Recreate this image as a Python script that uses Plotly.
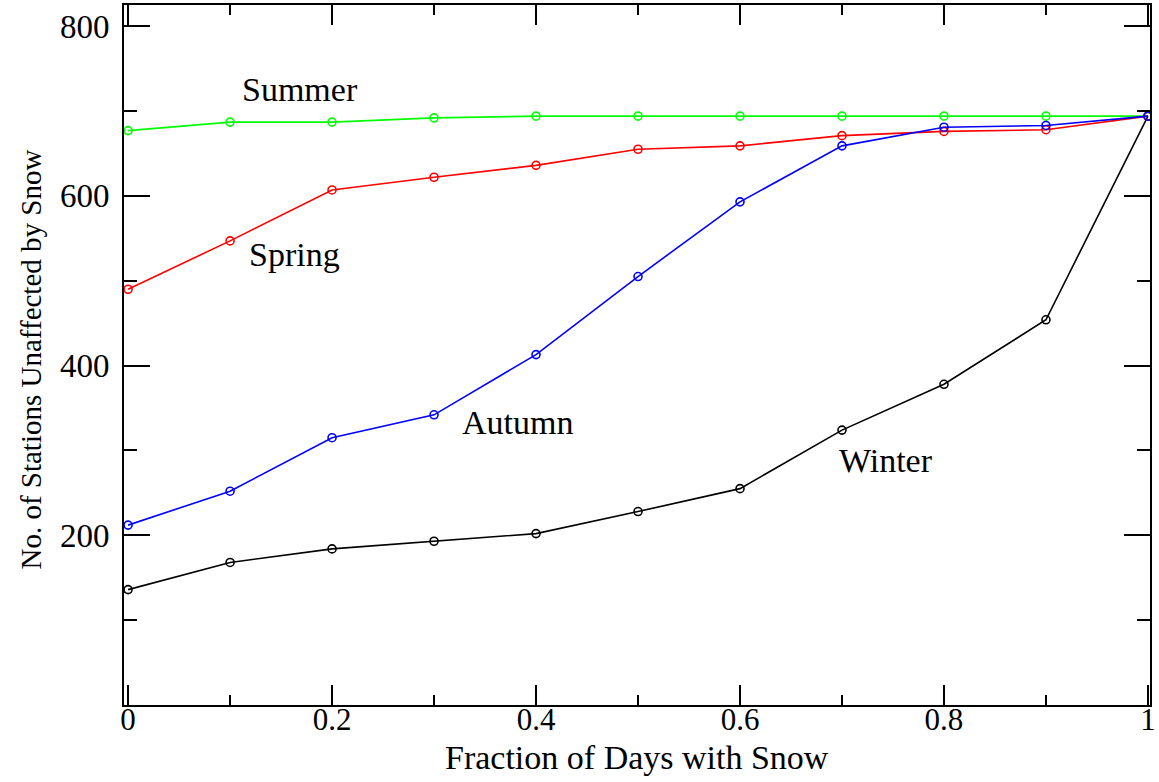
import plotly.graph_objects as go

# Fraction of days with snow (x) and number of stations unaffected (y), per season
fraction = [0.0, 0.1, 0.2, 0.3, 0.4, 0.5, 0.6, 0.7, 0.8, 0.9, 1.0]
summer = [677, 687, 687, 692, 694, 694, 694, 694, 694, 694, 694]
spring = [490, 547, 607, 622, 636, 655, 659, 671, 676, 678, 694]
autumn = [212, 252, 315, 342, 413, 505, 593, 659, 681, 683, 694]
winter = [136, 168, 184, 193, 202, 228, 255, 324, 378, 454, 694]

x_ticks = [0, 0.2, 0.4, 0.6, 0.8, 1.0]
x_tick_text = ["0", "0.2", "0.4", "0.6", "0.8", "1"]
x_minor = [0.1, 0.3, 0.5, 0.7, 0.9]
y_ticks = [200, 400, 600, 800]
y_minor = [100, 300, 500, 700]

series = [
    ("Winter", winter, "#000000"),
    ("Summer", summer, "#00ff00"),
    ("Spring", spring, "#ff0000"),
    ("Autumn", autumn, "#0000ff"),
]

# label anchor positions in data coordinates
labels = [
    ("Summer", 0.169, 725),
    ("Spring", 0.163, 531),
    ("Autumn", 0.382, 333),
    ("Winter", 0.743, 288),
]

FONT = "Liberation Serif"

fig = go.Figure()
for name, vals, color in series:
    fig.add_trace(go.Scatter(
        x=fraction, y=vals, name=name, mode="lines+markers",
        line=dict(color=color, width=1.6),
        marker=dict(symbol="circle-open", size=8, color=color,
                    line=dict(width=1.6, color=color)),
        showlegend=False,
    ))

for text, lx, ly in labels:
    fig.add_annotation(x=lx, y=ly, text=text, showarrow=False,
                       font=dict(family=FONT, size=34, color="black"),
                       xanchor="center", yanchor="middle")

# axis titles
fig.add_annotation(x=0.5, y=-0.075, xref="paper", yref="paper",
                   text="Fraction of Days with Snow", showarrow=False,
                   font=dict(family=FONT, size=34, color="black"),
                   xanchor="center", yanchor="middle")
fig.add_annotation(x=-0.091, y=0.493, xref="paper", yref="paper",
                   text="No. of Stations Unaffected by Snow", showarrow=False,
                   textangle=-90,
                   font=dict(family=FONT, size=29, color="black"),
                   xanchor="center", yanchor="middle")

axis_common = dict(
    showgrid=False, zeroline=False, showline=True, linecolor="black",
    linewidth=2, mirror="ticks", ticks="inside", tickcolor="black",
    tickwidth=2,
)

fig.update_xaxes(
    **axis_common,
    tickfont=dict(family=FONT, size=31, color="black"),
    range=[-0.004, 1.002],
    tickmode="array", tickvals=x_ticks, ticktext=x_tick_text, ticklen=20,
    ticklabelstandoff=-14,
    minor=dict(tickmode="array", tickvals=x_minor, ticks="inside",
               ticklen=10, tickwidth=1.5, tickcolor="black"),
)
fig.update_yaxes(
    **axis_common,
    tickfont=dict(family=FONT, size=33, color="black"),
    range=[0, 825],
    tickmode="array", tickvals=y_ticks, ticklen=26,
    ticklabelstandoff=6,
    minor=dict(tickmode="array", tickvals=y_minor, ticks="inside",
               ticklen=13, tickwidth=1.5, tickcolor="black"),
)

fig.update_layout(
    width=1159, height=782,
    margin=dict(l=124, r=9, t=5, b=77, autoexpand=False),
    plot_bgcolor="white", paper_bgcolor="white",
)

fig.write_html("out.html")
